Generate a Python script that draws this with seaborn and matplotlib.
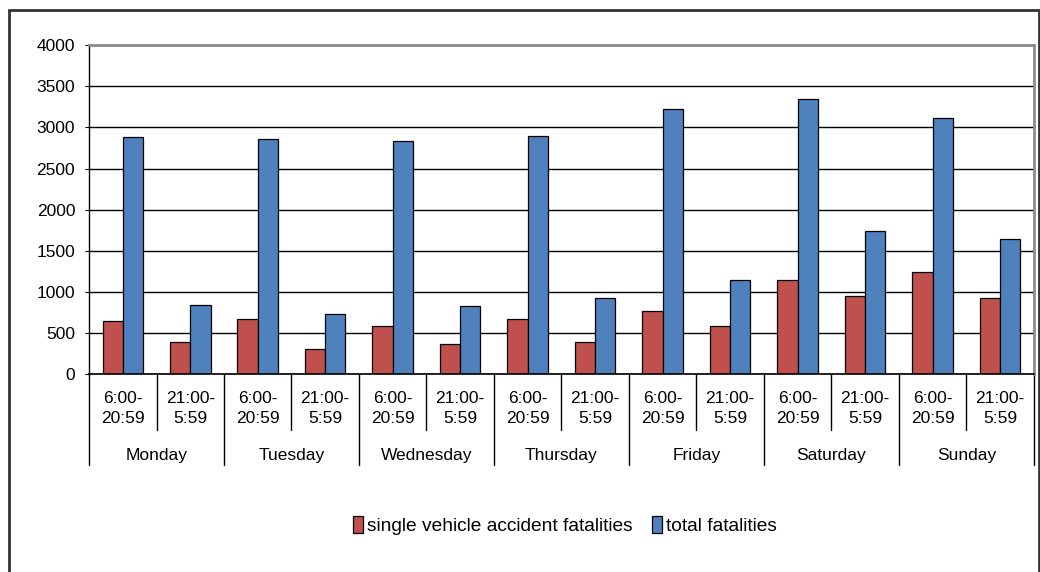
import pandas as pd
import matplotlib
matplotlib.use("Agg")
import matplotlib.pyplot as plt
import matplotlib.transforms as mtransforms
from matplotlib.patches import Rectangle
import seaborn as sns

# data
days = ["Monday", "Tuesday", "Wednesday", "Thursday", "Friday", "Saturday", "Sunday"]
periods = ["6:00-\n20:59", "21:00-\n5:59"]
single_vehicle = [650, 385, 665, 300, 590, 370, 670, 385, 770, 580, 1150, 945, 1245, 930]
total = [2880, 845, 2860, 735, 2830, 825, 2890, 925, 3230, 1150, 3340, 1735, 3115, 1640]
series_names = ["single vehicle accident fatalities", "total fatalities"]
colors = ["#C0504D", "#4F81BD"]

slots = [f"{d}|{p}" for d in days for p in periods]
df = pd.DataFrame({
    "slot": slots * 2,
    "series": [series_names[0]] * len(slots) + [series_names[1]] * len(slots),
    "value": single_vehicle + total,
})

sns.set_style("white")
plt.rcParams["font.family"] = ["Liberation Sans", "DejaVu Sans"]
plt.rcParams["text.color"] = "black"
plt.rcParams["ytick.color"] = "black"
plt.rcParams["ytick.labelcolor"] = "black"

fig = plt.figure(figsize=(10.4, 5.72), dpi=100)
ax = fig.add_axes([0.0856, 0.346, 0.9085, 0.575])

sns.barplot(data=df, x="slot", y="value", hue="series", order=slots,
            hue_order=series_names, palette=colors, width=0.6,
            edgecolor="black", linewidth=0.9, saturation=1, ax=ax, legend=True)

ax.set_ylim(0, 4000)
ax.set_xlim(-0.5, len(slots) - 0.5)
ax.set_yticks(range(0, 4001, 500))
ax.yaxis.grid(True, color="black", linewidth=1)
ax.set_axisbelow(True)
ax.set_xlabel("")
ax.set_ylabel("")
ax.tick_params(axis="y", labelsize=12.5, length=3, pad=7, color="black", left=True)
ax.tick_params(axis="x", length=0, labelbottom=False)

for side in ["top", "right"]:
    ax.spines[side].set_color("#8c8c8c")
    ax.spines[side].set_linewidth(2)
ax.spines["left"].set_color("black")
ax.spines["bottom"].set_color("black")
ax.spines["left"].set_linewidth(1)
ax.spines["bottom"].set_linewidth(1.2)

# two-level category axis
trans = mtransforms.blended_transform_factory(ax.transData, ax.transAxes)
for i, s in enumerate(slots):
    ax.text(i, -0.105, s.split("|")[1], transform=trans, ha="center", va="center",
            fontsize=12.5, linespacing=1.45)
for j, d in enumerate(days):
    ax.text(j * 2 + 0.5, -0.249, d, transform=trans, ha="center", va="center", fontsize=12.5)
for k in range(len(slots) + 1):
    depth = -0.277 if k % 2 == 0 else -0.170
    ax.plot([k - 0.5, k - 0.5], [0, depth], transform=trans, color="black",
            linewidth=1, clip_on=False)

# legend
handles, labels = ax.get_legend_handles_labels()
ax.legend_.remove()
fig.legend(handles, labels, loc="center", bbox_to_anchor=(0.543, 0.082), ncol=2,
           frameon=False, fontsize=13.8, handlelength=0.55, handleheight=1.0,
           handletextpad=0.2, columnspacing=1.0)

# outer chart frame
fig.add_artist(Rectangle((0.0087, -0.02), 0.9905, 1.0025, transform=fig.transFigure,
                         fill=False, edgecolor="#333333", linewidth=2))

fig.savefig("out.png", dpi=100)
